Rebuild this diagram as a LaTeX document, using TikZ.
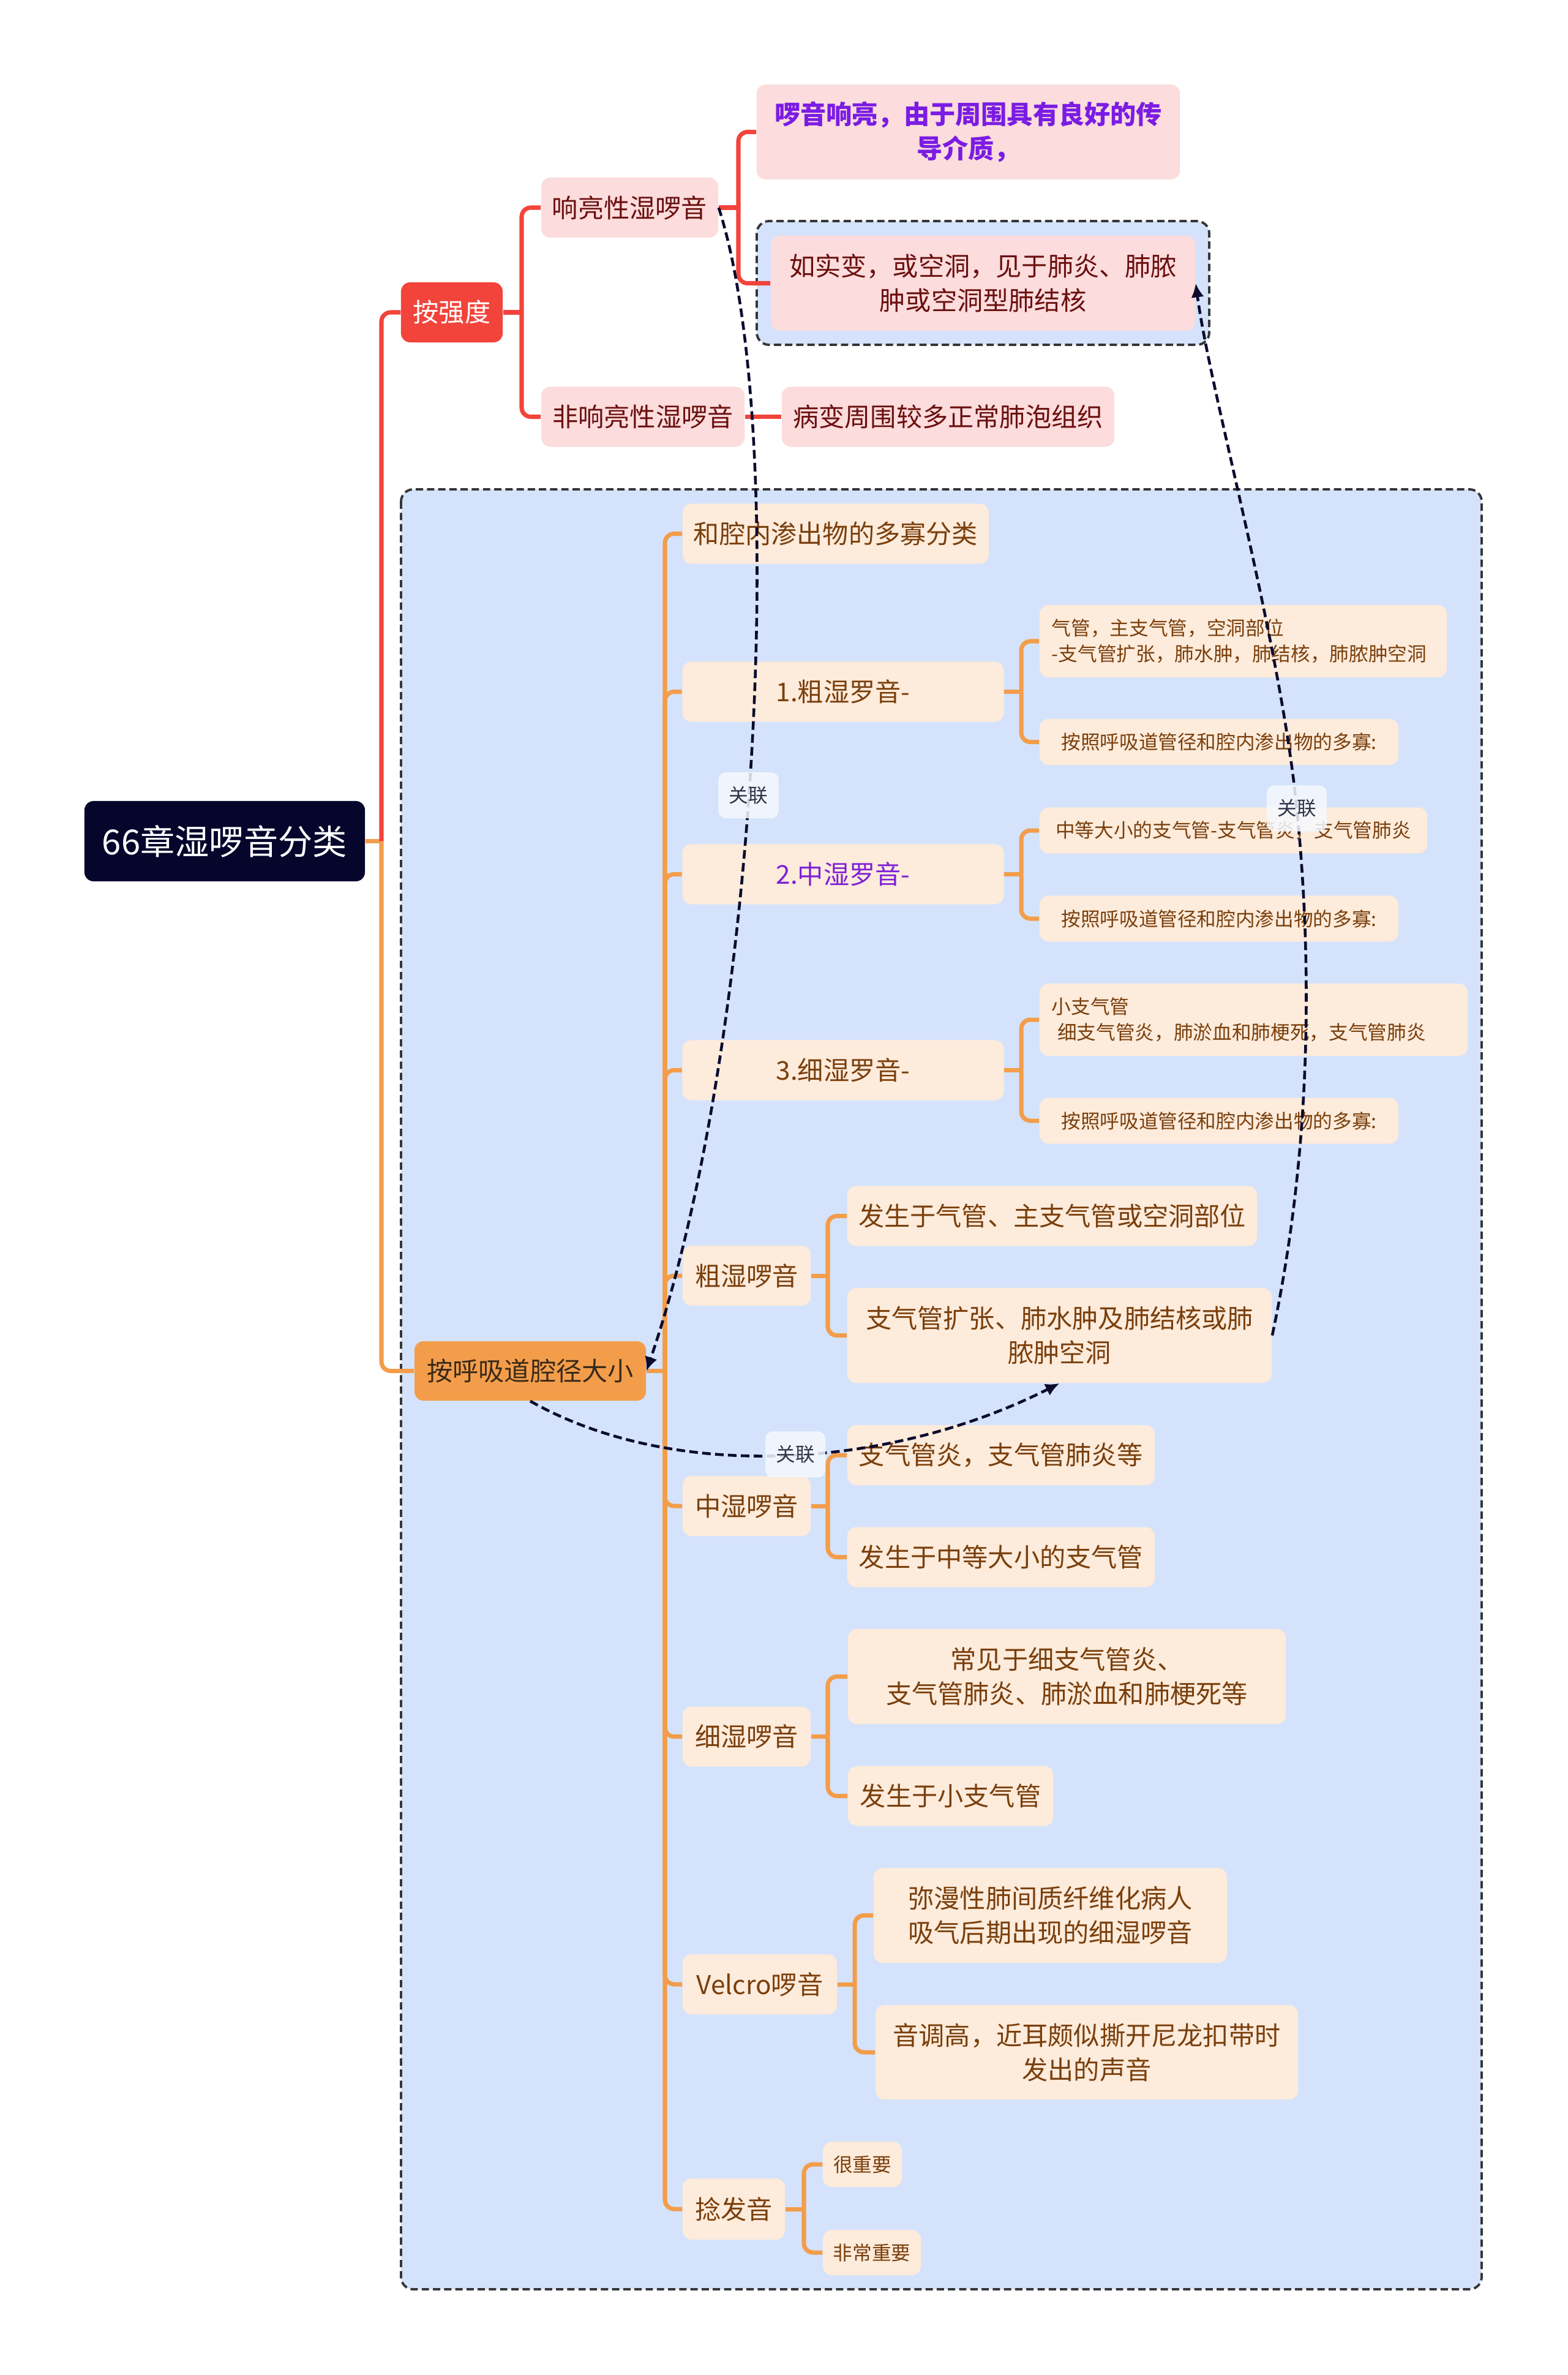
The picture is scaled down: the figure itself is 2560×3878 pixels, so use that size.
\documentclass[tikz,border=0pt]{standalone}
\usepackage{fontspec}
\setmainfont{Noto Sans CJK SC}
\usepackage{tikz}
\usetikzlibrary{arrows.meta}
\definecolor{navy}{HTML}{06062C}
\definecolor{redmain}{HTML}{F2443B}
\definecolor{pinkfill}{HTML}{FCDCDC}
\definecolor{pinktext}{HTML}{6B0F0F}
\definecolor{orangemain}{HTML}{F39D4B}
\definecolor{darktext}{HTML}{3A2A18}
\definecolor{peachfill}{HTML}{FDEBDB}
\definecolor{browntext}{HTML}{7A3F0C}
\definecolor{zoneblue}{HTML}{D4E3FB}
\definecolor{zoneline}{HTML}{363636}
\definecolor{violet1}{HTML}{7A1CE4}
\definecolor{violet2}{HTML}{7E20D6}
\definecolor{relnavy}{HTML}{0B0B2E}
\definecolor{tagfill}{HTML}{F6F9FE}
\definecolor{tagtext}{HTML}{2E3748}

\begin{document}
\begin{tikzpicture}[x=0.01cm,y=-0.01cm,
  card/.style={rounded corners=0.15cm,inner sep=0pt,align=center,
    font=\fontsize{12}{16}\selectfont},
  pinkcard/.style={card,fill=pinkfill,text=pinktext,minimum height=0.98cm},
  peachcard/.style={card,fill=peachfill,text=browntext,minimum height=0.98cm},
  smallcard/.style={peachcard,font=\fontsize{9}{12}\selectfont,minimum height=0.75cm},
  zone/.style={draw=zoneline,fill=zoneblue,line width=1.1pt,
    dash pattern=on 3.4pt off 1.8pt,rounded corners=0.2cm},
  redlink/.style={draw=redmain,line width=2pt,rounded corners=0.15cm},
  orangelink/.style={redlink,draw=orangemain},
  relation/.style={draw=relnavy,line width=1.3pt,dash pattern=on 4pt off 2pt,
    -{Latex[length=6.5pt,width=6pt]}},
  tag/.style={fill=tagfill,fill opacity=0.85,text opacity=1,text=tagtext,
    rounded corners=0.12cm,inner sep=0pt,minimum width=0.98cm,minimum height=0.75cm,
    font=\fontsize{9}{11}\selectfont}]
\useasboundingbox (0,0) rectangle (2560,3878);

\draw[zone] (655,799) rectangle (2420,3738);
\draw[zone] (1236,361) rectangle (1975,563);

\node[card,fill=navy,text=white,font=\fontsize{16}{20}\selectfont,
  minimum width=4.58cm,minimum height=1.31cm] (root) at (367,1373.5) {66章湿啰音分类};

\node[card,fill=redmain,text=white,minimum width=1.66cm,minimum height=0.98cm] (qiang) at (738,510) {按强度};
\node[pinkcard,minimum width=2.89cm] (xl) at (1028.5,339) {响亮性湿啰音};
\node[pinkcard,minimum width=3.32cm] (fxl) at (1050,680.5) {非响亮性湿啰音};
\node[pinkcard,minimum width=6.91cm,minimum height=1.55cm,text=violet1,
  font=\fontsize{12}{16}\selectfont\bfseries] (xlA) at (1581.5,215.5) {啰音响亮，由于周围具有良好的传\\导介质，};
\node[pinkcard,minimum width=6.93cm,minimum height=1.55cm] (xlB) at (1605.5,462.5) {如实变，或空洞，见于肺炎、肺脓\\肿或空洞型肺结核};
\node[pinkcard,minimum width=5.43cm] (fxlA) at (1548.5,680.5) {病变周围较多正常肺泡组织};

\node[card,fill=orangemain,text=darktext,minimum width=3.78cm,minimum height=0.97cm] (airway) at (866,2238.5) {按呼吸道腔径大小};

\node[peachcard,minimum width=5.00cm] (c0) at (1365,871.5) {和腔内渗出物的多寡分类};
\node[peachcard,minimum width=5.25cm] (c1) at (1377,1129.5) {1.粗湿罗音-};
\node[peachcard,minimum width=5.25cm,text=violet2] (c2) at (1377,1427.5) {2.中湿罗音-};
\node[peachcard,minimum width=5.25cm] (c3) at (1377,1747.5) {3.细湿罗音-};
\node[peachcard,minimum width=2.09cm] (c4) at (1219.5,2083) {粗湿啰音};
\node[peachcard,minimum width=2.09cm] (c5) at (1219.5,2459) {中湿啰音};
\node[peachcard,minimum width=2.09cm] (c6) at (1219.5,2835.5) {细湿啰音};
\node[peachcard,minimum width=2.52cm] (c7) at (1241,3240) {Velcro啰音};
\node[peachcard,minimum width=1.67cm,minimum height=1.00cm] (c8) at (1198.5,3607) {捻发音};

\node[smallcard,minimum width=6.65cm,minimum height=1.18cm,inner xsep=0.2cm,
  text width=6.25cm,align=left] (c1a) at (2030.5,1047) {气管，主支气管，空洞部位\\-支气管扩张，肺水肿，肺结核，肺脓肿空洞};
\node[smallcard,minimum width=5.86cm] (c1b) at (1991,1211.5) {按照呼吸道管径和腔内渗出物的多寡:};
\node[smallcard,minimum width=6.33cm] (c2a) at (2014.5,1356) {中等大小的支气管-支气管炎，支气管肺炎};
\node[smallcard,minimum width=5.86cm] (c2b) at (1991,1500) {按照呼吸道管径和腔内渗出物的多寡:};
\node[smallcard,minimum width=6.99cm,minimum height=1.18cm,inner xsep=0.2cm,
  text width=6.59cm,align=left] (c3a) at (2047.5,1665) {小支气管\\\hspace{0.3em}细支气管炎，肺淤血和肺梗死，支气管肺炎};
\node[smallcard,minimum width=5.86cm] (c3b) at (1991,1830) {按照呼吸道管径和腔内渗出物的多寡:};

\node[peachcard,minimum width=6.69cm] (c4a) at (1718.5,1985.5) {发生于气管、主支气管或空洞部位};
\node[peachcard,minimum width=6.93cm,minimum height=1.55cm] (c4b) at (1730.5,2180.5) {支气管扩张、肺水肿及肺结核或肺\\脓肿空洞};
\node[peachcard,minimum width=5.02cm] (c5a) at (1635,2376) {支气管炎，支气管肺炎等};
\node[peachcard,minimum width=5.02cm] (c5b) at (1635,2542.5) {发生于中等大小的支气管};
\node[peachcard,minimum width=7.15cm,minimum height=1.55cm] (c6a) at (1742.5,2737.5) {常见于细支气管炎、\\支气管肺炎、肺淤血和肺梗死等};
\node[peachcard,minimum width=3.35cm] (c6b) at (1552.5,2932.5) {发生于小支气管};
\node[peachcard,minimum width=5.77cm,minimum height=1.55cm] (c7a) at (1715.5,3127.5) {弥漫性肺间质纤维化病人\\吸气后期出现的细湿啰音};
\node[peachcard,minimum width=6.90cm,minimum height=1.54cm] (c7b) at (1775,3351) {音调高，近耳颇似撕开尼龙扣带时\\发出的声音};
\node[smallcard,minimum width=1.29cm,minimum height=0.74cm] (c8a) at (1408.5,3534) {很重要};
\node[smallcard,minimum width=1.60cm,minimum height=0.74cm] (c8b) at (1424,3678) {非常重要};

\coordinate (b0) at (623,0);
\coordinate (b1) at (852,0);
\coordinate (b2) at (1206,0);
\coordinate (b3) at (1086,0);
\coordinate (b4) at (1668,0);
\coordinate (b5) at (1352,0);
\coordinate (b6) at (1396,0);
\coordinate (b7) at (1313,0);

\draw[orangelink] (root.east) -- (root.east -| b0);
\draw[orangelink] (root.east -| b0) |- (airway.west);
\draw[redlink] (root.east -| b0) |- (qiang.west);

\draw[redlink] (qiang.east) -- (qiang.east -| b1);
\draw[redlink] (qiang.east -| b1) |- (xl.west);
\draw[redlink] (qiang.east -| b1) |- (fxl.west);
\draw[redlink] (xl.east) -- (xl.east -| b2);
\draw[redlink] (xl.east -| b2) |- (xlA.west);
\draw[redlink] (xl.east -| b2) |- (xlB.west);
\draw[redlink] (fxl.east) -- (fxlA.west);

\draw[orangelink] (airway.east) -- (airway.east -| b3);
\foreach \n in {c0,c1,c2,c3,c4,c5,c6,c7,c8}
  \draw[orangelink] (airway.east -| b3) |- (\n.west);
\foreach \n in {c1,c2,c3}{
  \draw[orangelink] (\n.east) -- (\n.east -| b4);
  \draw[orangelink] (\n.east -| b4) |- (\n a.west);
  \draw[orangelink] (\n.east -| b4) |- (\n b.west);}
\foreach \n in {c4,c5,c6}{
  \draw[orangelink] (\n.east) -- (\n.east -| b5);
  \draw[orangelink] (\n.east -| b5) |- (\n a.west);
  \draw[orangelink] (\n.east -| b5) |- (\n b.west);}
\draw[orangelink] (c7.east) -- (c7.east -| b6);
\draw[orangelink] (c7.east -| b6) |- (c7a.west);
\draw[orangelink] (c7.east -| b6) |- (c7b.west);
\draw[orangelink] (c8.east) -- (c8.east -| b7);
\draw[orangelink] (c8.east -| b7) |- (c8a.west);
\draw[orangelink] (c8.east -| b7) |- (c8b.west);

\draw[relation] (xl.east) .. controls (1290,700) and (1240,1700) .. (airway.east)
  node[tag,pos=0.535] {关联};
\draw[relation] (c4b.east) .. controls (2138,1899) and (2146,1600) .. (2118,1320)
  node[tag] {关联} .. controls (2090,1040) and (1977,643) .. (xlB.east);
\draw[relation] (airway.south) .. controls (1100,2420) and (1450,2400) .. (c4b.south)
  node[tag,pos=0.52] {关联};
\end{tikzpicture}
\end{document}
